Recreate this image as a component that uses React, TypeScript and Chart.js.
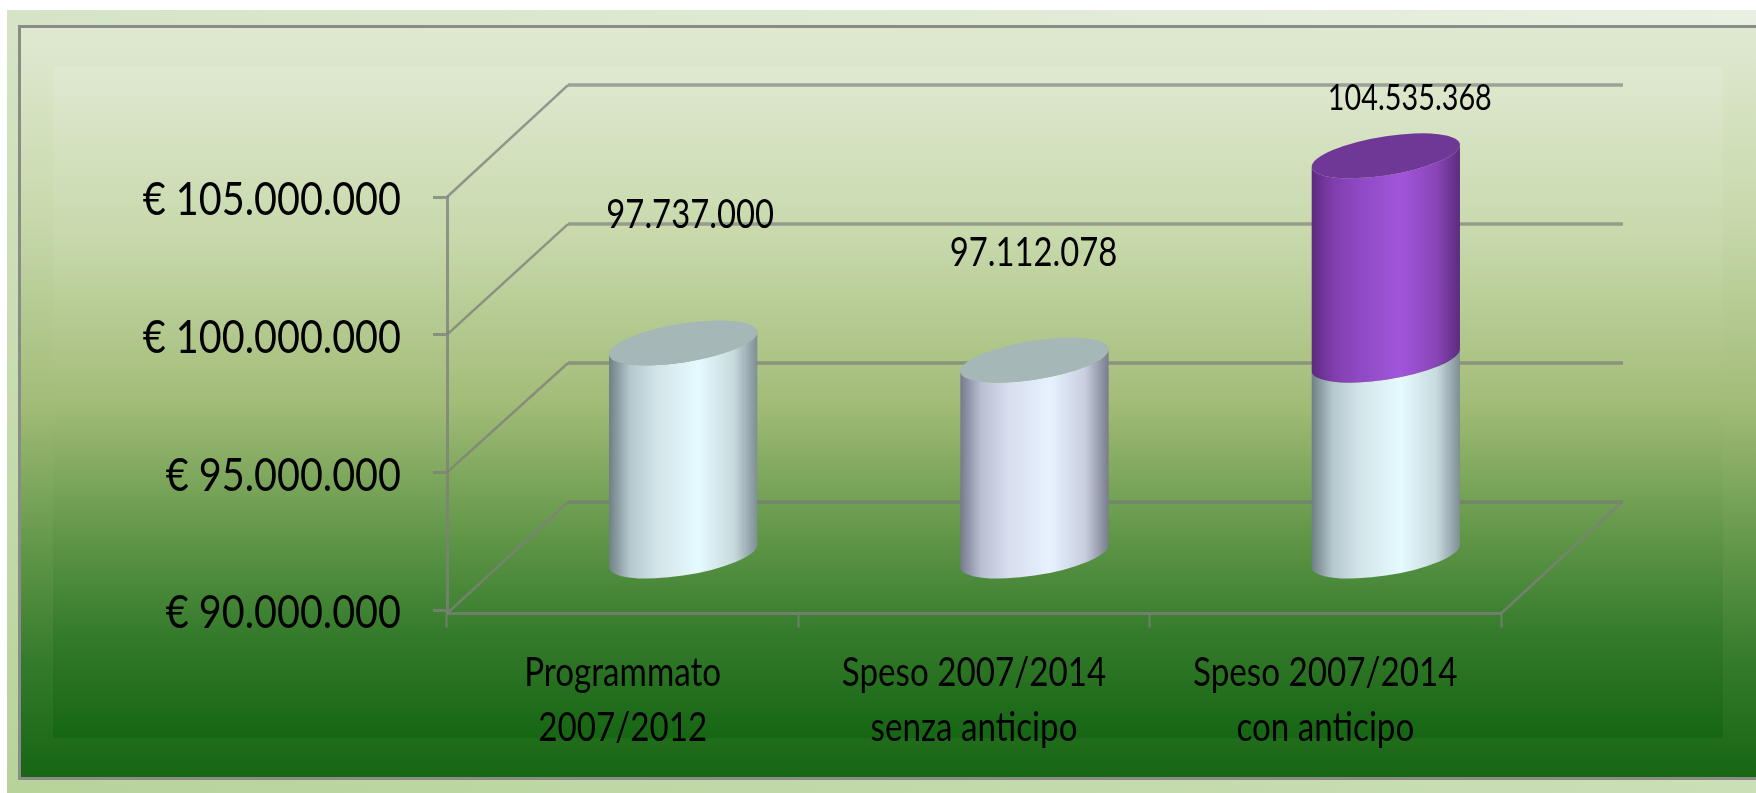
import React, { useEffect, useRef } from "react";
import { Chart, registerables } from "chart.js";

Chart.register(...registerables);

const categories = [
  ["Programmato", "2007/2012"],
  ["Speso 2007/2014", "senza anticipo"],
  ["Speso 2007/2014", "con anticipo"],
];
const baseValues = [97737000, 97112078, 97112078];
const advanceValues = [null, null, 7423290];
const yTicks = [90000000, 95000000, 100000000, 105000000];

const FONT = 'Lato, "Open Sans", sans-serif';
const GRID = "rgba(118,118,118,0.62)";
const AXIS = "rgba(125,128,122,0.78)";
const labelLift = [128, 107, 57];
const labelShift = [7, -1, 24];
const labelSizes = [41, 41, 36];
const silverStops = ["#6f7f85", "#b3c7cd", "#d2e4e8", "#e6fbff", "#c8dbdf", "#7e8f94"];
const lavenderStops = ["#757a8c", "#b9c0d3", "#d6dded", "#e8f2ff", "#c8cfe0", "#787c8c"];
const bodyStops = [silverStops, lavenderStops, silverStops];
const purpleStops = ["#5b2a80", "#7f3dac", "#8f49c4", "#a156da", "#8a45b8", "#5a2c7e"];
const capColors = ["#a5b7b7", "#a5b7b7", "#6f3796"];
const stopAt = [0, 0.14, 0.32, 0.6, 0.84, 1];

const euro = (v: number) => String(v).replace(/\B(?=(\d{3})+(?!\d))/g, ".");

function vGrad(ctx: CanvasRenderingContext2D, y0: number, y1: number) {
  const g = ctx.createLinearGradient(0, y0, 0, y1);
  g.addColorStop(0, "#dfe9d1");
  g.addColorStop(0.25, "#c8d9ac");
  g.addColorStop(0.5, "#a3bc78");
  g.addColorStop(0.7, "#609648");
  g.addColorStop(0.85, "#347a2b");
  g.addColorStop(1, "#166614");
  return g;
}

// The reference's type is a condensed humanist face: squeeze the text horizontally.
function condenseText(ctx: any) {
  const fill = ctx.fillText.bind(ctx);
  ctx.fillText = (text: string, x: number, y: number) => {
    const size = parseFloat((/(\d+(?:\.\d+)?)px/.exec(ctx.font) || ["", "36"])[1]);
    const axisFont = size > 45;
    ctx.save();
    ctx.translate(x, y + (axisFont ? 3.5 : 0));
    ctx.scale(axisFont ? 0.86 : 0.8, 1);
    fill(text, 0, 0);
    ctx.restore();
  };
}

const background = {
  id: "background",
  beforeDraw(chart: any) {
    const { ctx, width, height } = chart;
    ctx.save();
    const o = ctx.createLinearGradient(8, height, 366, -405);
    o.addColorStop(0, "#b7d39a");
    o.addColorStop(1, "#e9f0e3");
    ctx.fillStyle = o;
    ctx.fillRect(7, 10, width - 7, height - 10);
    ctx.fillStyle = vGrad(ctx, 28, 777);
    ctx.fillRect(20, 28, width - 20, 749);
    ctx.fillStyle = vGrad(ctx, 67, 738);
    ctx.fillRect(53, 67, 1670, 671);
    ctx.strokeStyle = "#8a8d86";
    ctx.lineWidth = 3;
    ctx.beginPath();
    ctx.moveTo(width + 4, 26.5);
    ctx.lineTo(19.5, 26.5);
    ctx.lineTo(19.5, 778.5);
    ctx.lineTo(width + 4, 778.5);
    ctx.stroke();
    ctx.restore();
  },
};

const FLOOR_GAP = 3.5;
const DX = 121;
const BACK_FLOOR = 502;
const WALL_RATIO = 139 / 137.7;

function drawCylinder(
  ctx: CanvasRenderingContext2D,
  cx: number,
  hw: number,
  top: number,
  bottom: number,
  stops: string[],
  cap: string | null,
) {
  const tilt = 11 / hw;
  const minor = 19.6;
  const g = ctx.createLinearGradient(cx - hw, 0, cx + hw, 0);
  stops.forEach((c, i) => g.addColorStop(stopAt[i], c));
  ctx.save();
  ctx.fillStyle = g;
  ctx.beginPath();
  ctx.moveTo(cx - hw, top + 11);
  ctx.lineTo(cx - hw, bottom + 11);
  ctx.save();
  ctx.transform(1, -tilt, 0, 1, cx, bottom);
  ctx.ellipse(0, 0, hw, minor, 0, Math.PI, 0, true);
  ctx.restore();
  ctx.lineTo(cx + hw, top - 11);
  ctx.save();
  ctx.transform(1, -tilt, 0, 1, cx, top);
  ctx.ellipse(0, 0, hw, minor, 0, 0, Math.PI, false);
  ctx.restore();
  ctx.closePath();
  ctx.fill();
  if (cap) {
    ctx.fillStyle = cap;
    ctx.beginPath();
    ctx.save();
    ctx.transform(1, -tilt, 0, 1, cx, top);
    ctx.ellipse(0, 0, hw, minor, 0, 0, Math.PI * 2);
    ctx.restore();
    ctx.fill();
  }
  ctx.restore();
}

const chart3d = {
  id: "chart3d",
  afterLayout(chart: any) {
    const x = chart.scales.x;
    x.top += FLOOR_GAP;
    x.bottom += FLOOR_GAP;
  },
  beforeDatasetsDraw(chart: any) {
    const { ctx, scales } = chart;
    const { x: xs, y: ys } = scales;
    const left = xs.left;
    const right = xs.right;
    const floor = ys.bottom + FLOOR_GAP;
    const backY = (py: number) => BACK_FLOOR - (ys.bottom - py) * WALL_RATIO;

    ctx.save();
    ctx.lineCap = "butt";
    yTicks.forEach((t) => {
      const py = ys.getPixelForValue(t);
      const by = backY(py);
      ctx.strokeStyle = GRID;
      ctx.lineWidth = 3.5;
      ctx.beginPath();
      ctx.moveTo(left + DX, by);
      ctx.lineTo(right + DX + 1, by);
      ctx.stroke();
      ctx.strokeStyle = AXIS;
      ctx.lineWidth = 2.5;
      ctx.beginPath();
      ctx.moveTo(left, t === yTicks[0] ? floor : py);
      ctx.lineTo(left + DX, by);
      ctx.stroke();
    });
    ctx.strokeStyle = AXIS;
    ctx.lineWidth = 2.5;
    ctx.beginPath();
    ctx.moveTo(right, floor);
    ctx.lineTo(right + DX, BACK_FLOOR);
    ctx.moveTo(left, ys.bottom);
    ctx.lineTo(left, floor);
    ctx.stroke();

    const baseMeta = chart.getDatasetMeta(0);
    const topMeta = chart.getDatasetMeta(1);
    const shift = DX / 2;
    const lift = 54;
    baseMeta.data.forEach((bar: any, i: number) => {
      const cx = bar.x + shift;
      const hw = bar.width / 2;
      const floorY = ys.getPixelForValue(ys.min) - lift;
      const hasTop = advanceValues[i] != null;
      drawCylinder(ctx, cx, hw, bar.y - lift, floorY, bodyStops[i], hasTop ? null : capColors[i]);
      if (hasTop) {
        const t = topMeta.data[i];
        drawCylinder(ctx, cx, hw, t.y - lift, bar.y - lift, purpleStops, capColors[i]);
      }
    });

    ctx.fillStyle = "#000";
    ctx.textAlign = "center";
    ctx.textBaseline = "middle";
    baseMeta.data.forEach((bar: any, i: number) => {
      const total = baseValues[i] + (advanceValues[i] ?? 0);
      const top = advanceValues[i] != null ? topMeta.data[i] : bar;
      ctx.font = `${labelSizes[i]}px ${FONT}`;
      ctx.fillText(euro(total), bar.x + shift + labelShift[i], top.y - lift - labelLift[i]);
    });
    ctx.restore();
    return false;
  },
};

export default function App() {
  const ref = useRef<HTMLCanvasElement>(null);
  useEffect(() => {
    document.body.style.margin = "0";
    const canvas = ref.current!;
    condenseText(canvas.getContext("2d"));
    const chart = new Chart(canvas, {
      type: "bar",
      data: {
        labels: categories,
        datasets: [
          { label: "Speso", data: baseValues, backgroundColor: ["#e6fbff", "#e8f2ff", "#e6fbff"] },
          { label: "Anticipo", data: advanceValues, backgroundColor: "#a156da" },
        ],
      },
      options: {
        responsive: false,
        animation: false,
        events: [],
        layout: { padding: { left: 0, top: 197, right: 255, bottom: 0 } },
        datasets: { bar: { categoryPercentage: 1, barPercentage: 0.422 } },
        plugins: { legend: { display: false }, tooltip: { enabled: false }, title: { display: false } },
        scales: {
          x: {
            stacked: true,
            afterFit(s: any) {
              s.height = 183;
            },
            border: { display: true, color: AXIS, width: 3 },
            grid: { display: true, drawOnChartArea: false, drawTicks: true, tickLength: 14, color: AXIS, tickWidth: 2 },
            ticks: {
              color: "#000",
              font: { family: FONT, size: 41.5, lineHeight: 1.325 },
              padding: 18,
              maxRotation: 0,
              autoSkip: false,
            },
          },
          y: {
            stacked: true,
            min: 90000000,
            max: 105000000,
            afterFit(s: any) {
              s.width = 447;
            },
            afterBuildTicks(s: any) {
              s.ticks = yTicks.map((value) => ({ value }));
            },
            border: { display: true, color: AXIS, width: 3 },
            grid: { display: true, drawOnChartArea: false, drawTicks: true, tickLength: 14, color: AXIS, tickWidth: 3 },
            ticks: {
              color: "#000",
              font: { family: FONT, size: 46 },
              padding: 32,
              callback: (v: any) => `€ ${euro(Number(v))}`,
            },
          },
        },
      },
      plugins: [background, chart3d],
    } as any);
    return () => chart.destroy();
  }, []);
  return <canvas ref={ref} width={1756} height={793} style={{ display: "block" }} />;
}
